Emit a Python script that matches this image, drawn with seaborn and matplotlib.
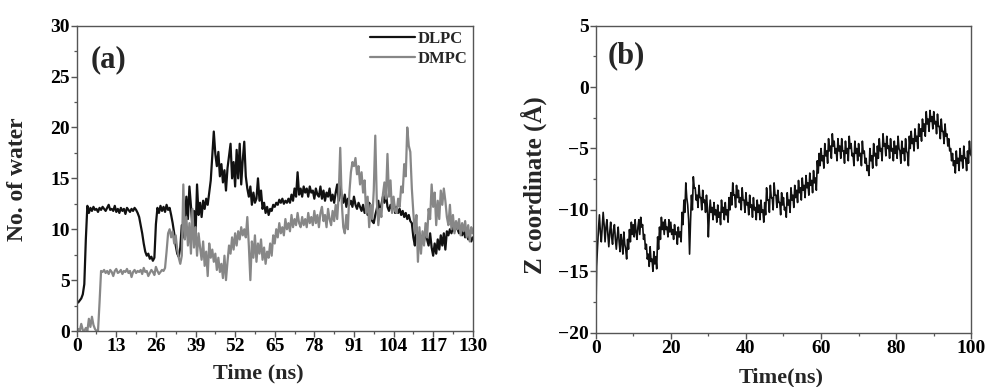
import numpy as np
import pandas as pd
import matplotlib
matplotlib.use("Agg")
import matplotlib.pyplot as plt
from matplotlib.ticker import MultipleLocator
import seaborn as sns

# ---------------- data ----------------
# panel (a): number of water molecules, sampled every 0.5 ns from 0 to 130 ns
time_a_step = 0.5
dlpc_water = [
    2.9, 2.8, 3.0, 3.2, 3.6, 4.6, 9.0, 12.3, 11.6, 12.1,
    11.8, 12.2, 11.9, 12.0, 11.7, 12.1, 11.9, 12.2, 12.0, 11.8,
    12.1, 12.4, 11.9, 12.0, 11.8, 12.3, 11.7, 12.0, 11.6, 12.1,
    11.8, 12.0, 11.5, 12.1, 11.9, 11.7, 12.0, 11.8, 12.1, 11.9,
    11.6, 11.2, 10.4, 9.6, 8.6, 7.8, 7.4, 7.6, 7.1, 7.3,
    6.9, 7.2, 10.5, 12.1, 11.6, 12.3, 11.8, 12.2, 11.7, 12.4,
    11.9, 12.1, 11.4, 10.6, 9.6, 8.4, 7.6, 7.3, 8.2, 10.4,
    9.2, 10.8, 13.2, 11.0, 14.2, 12.3, 10.0, 11.8, 9.4, 14.4,
    11.4, 12.6, 11.2, 12.8, 12.0, 13.0, 12.4, 13.6, 14.8, 17.2,
    19.6, 17.4, 16.2, 17.6, 15.2, 16.4, 14.6, 15.8, 13.8, 16.0,
    17.2, 18.4, 15.0, 16.6, 14.2, 17.8, 15.0, 18.4, 14.4, 16.8,
    18.6, 15.2, 14.0, 13.2, 14.2, 12.4, 13.6, 12.6, 13.0, 15.0,
    12.8, 13.8, 12.0, 12.6, 11.6, 12.2, 11.4, 12.0, 11.8, 12.4,
    12.2, 12.6, 12.4, 12.9, 12.6, 13.0, 12.5, 12.8, 12.6, 13.0,
    12.6, 13.4, 12.8, 14.0, 13.2, 15.6, 13.4, 14.0, 13.2, 14.2,
    13.6, 14.0, 13.2, 14.2, 13.6, 13.8, 13.0, 14.0, 13.4, 13.2,
    14.2, 13.0, 13.8, 12.8, 13.6, 13.2, 14.0, 12.8, 13.4, 12.6,
    13.6, 14.4, 12.8, 14.8, 13.0, 12.6, 13.4, 12.2, 13.0, 12.4,
    12.8, 12.2, 13.2, 12.4, 12.0, 12.6, 12.2, 11.8, 12.4, 11.6,
    12.0, 11.4, 12.6, 12.2, 10.8, 10.6, 11.4, 12.0, 12.8, 11.4,
    12.4, 13.2, 12.6, 13.6, 12.2, 11.8, 12.4, 12.0, 12.8, 11.6,
    12.2, 11.6, 12.0, 11.4, 11.8, 11.2, 11.6, 11.0, 11.4, 10.8,
    10.6, 9.2, 8.4, 10.2, 9.0, 9.6, 8.6, 9.4, 8.8, 9.8,
    9.0, 8.4, 9.6, 8.2, 7.4, 8.6, 7.6, 9.0, 8.0, 9.4,
    8.4, 9.6, 8.0, 9.8, 9.4, 10.0, 9.6, 10.2, 9.8, 10.4,
    10.0, 9.6, 10.2, 9.4, 10.0, 9.2, 9.8, 9.0, 9.4, 8.8,
    9.2,
]
dmpc_water = [
    0.0, 0.2, 0.0, 0.7, 0.1, 0.0, 0.3, 0.0, 1.2, 0.4,
    1.4, 0.6, 0.2, 0.0, 0.0, 2.8, 5.9, 5.8, 6.0, 5.7,
    5.9, 5.6, 6.0, 5.8, 5.4, 5.9, 6.1, 5.7, 5.8, 6.0,
    5.6, 5.9, 5.8, 6.1, 5.7, 5.9, 5.3, 5.8, 6.0, 5.7,
    5.9, 5.8, 6.0, 5.6, 6.2, 5.8, 5.9, 5.4, 5.7, 6.0,
    5.8, 5.5, 6.3, 5.9, 5.6, 5.8, 6.0, 5.9, 6.2, 7.8,
    9.6, 10.0, 9.2, 9.8, 8.6, 9.4, 8.0, 7.2, 6.6, 7.4,
    14.4, 9.0, 11.2, 8.4, 10.6, 7.6, 12.0, 8.2, 10.2, 7.4,
    9.6, 8.2, 7.0, 8.8, 6.4, 7.8, 5.4, 8.6, 7.2, 8.0,
    6.8, 7.6, 6.0, 7.2, 5.8, 6.6, 5.2, 7.4, 5.0, 6.8,
    8.4, 7.6, 9.2, 8.0, 9.6, 8.4, 9.8, 9.0, 10.2, 9.4,
    10.0, 9.2, 11.2, 8.4, 5.0, 8.8, 7.2, 9.4, 6.8, 8.6,
    7.6, 9.0, 7.0, 8.2, 6.6, 7.8, 7.2, 8.6, 7.4, 9.4,
    8.6, 10.0, 9.2, 10.6, 9.6, 10.2, 9.4, 11.0, 10.0, 10.6,
    9.8, 11.4, 10.2, 11.0, 10.4, 11.6, 10.6, 10.2, 11.2, 10.4,
    11.0, 10.2, 11.6, 10.6, 11.2, 10.4, 11.8, 10.6, 11.4, 10.2,
    11.6, 12.2, 10.8, 11.4, 10.2, 12.0, 11.0, 10.4, 11.8, 10.8,
    12.4, 11.0, 13.4, 18.0, 12.6, 10.2, 9.6, 11.4, 10.0, 13.6,
    15.6, 16.6, 16.2, 17.0, 15.4, 16.2, 14.4, 15.6, 13.6, 14.8,
    11.6, 13.2, 10.2, 12.4, 11.0, 13.8, 19.2, 12.8, 10.4, 12.0,
    11.2, 13.4, 14.6, 13.0, 17.4, 13.2, 14.8, 11.6, 13.2, 11.8,
    11.6, 13.0, 12.2, 14.2, 13.6, 16.4, 15.2, 20.0, 18.2, 17.6,
    14.0, 11.6, 9.6, 11.4, 6.8, 10.2, 7.6, 9.8, 8.4, 10.6,
    9.2, 12.0, 11.0, 14.4, 12.2, 13.6, 10.4, 12.8, 11.0, 13.8,
    12.4, 14.0, 12.8, 11.2, 10.4, 12.4, 10.0, 11.4, 9.6, 10.8,
    10.0, 11.0, 9.4, 10.6, 9.8, 10.8, 9.2, 10.4, 8.8, 10.2,
    9.6,
]
series_names = ["DLPC", "DMPC"]
x_ticks_a = [0, 13, 26, 39, 52, 65, 78, 91, 104, 117, 130]

# panel (b): Z coordinate, sampled every 0.25 ns from 0 to 100 ns
time_b_step = 0.25
z_coord = [
    -20.0, -14.6, -13.0, -11.6, -10.4, -11.8, -12.6, -11.4, -10.2, -11.2, -12.6, -11.4, -10.8, -12.0, -13.0, -11.8, -11.0, -12.2, -12.8, -11.6,
    -11.2, -12.4, -13.2, -12.2, -11.4, -12.6, -13.4, -12.0, -12.6, -13.6, -11.8, -12.8, -13.2, -14.0, -12.4, -13.2, -11.6, -12.6, -11.0, -12.0,
    -11.2, -12.2, -10.8, -11.8, -12.4, -11.4, -10.8, -12.0, -10.6, -11.4, -11.2, -12.4, -12.0, -13.2, -12.8, -14.0, -13.6, -14.6, -13.0, -14.2,
    -14.0, -15.0, -13.4, -14.4, -13.8, -14.8, -12.2, -13.2, -11.4, -12.4, -10.6, -11.6, -11.0, -12.0, -10.8, -11.6, -11.4, -12.2, -10.8, -11.8,
    -11.0, -12.0, -11.6, -12.4, -11.2, -12.0, -11.8, -12.8, -11.4, -12.2, -11.8, -12.6, -10.2, -11.2, -9.2, -10.2, -7.8, -9.0, -9.6, -10.8,
    -13.6, -11.0, -8.8, -10.0, -7.3, -8.2, -8.2, -9.2, -8.8, -9.8, -8.0, -9.0, -9.0, -10.0, -8.4, -9.4, -9.2, -10.2, -8.8, -9.8,
    -12.2, -10.4, -9.2, -10.2, -9.8, -10.8, -9.4, -10.4, -10.0, -11.0, -9.6, -10.6, -10.2, -11.2, -9.2, -10.2, -9.8, -10.8, -9.4, -10.4,
    -10.0, -11.0, -9.0, -10.0, -8.6, -9.6, -7.8, -8.8, -8.8, -9.8, -8.0, -9.0, -8.4, -9.4, -9.0, -10.0, -8.2, -9.2, -9.2, -10.2,
    -8.6, -9.6, -9.4, -10.4, -8.8, -9.8, -9.6, -10.6, -9.0, -10.0, -9.8, -10.8, -9.2, -10.2, -9.6, -10.8, -9.2, -10.2, -10.0, -11.0,
    -9.4, -10.4, -8.2, -9.2, -9.2, -10.2, -8.0, -9.0, -9.0, -10.0, -7.8, -8.8, -8.8, -9.8, -8.4, -9.4, -9.4, -10.4, -8.6, -9.6,
    -9.0, -10.0, -9.8, -10.6, -8.6, -9.6, -9.2, -10.2, -8.2, -9.2, -8.8, -9.8, -8.0, -9.0, -8.4, -9.4, -7.6, -8.6, -8.2, -9.2,
    -7.4, -8.4, -8.0, -9.0, -7.2, -8.2, -7.8, -8.8, -7.0, -8.0, -7.6, -8.6, -6.8, -7.8, -7.4, -8.4, -6.0, -7.0, -5.4, -6.4,
    -5.0, -6.0, -5.6, -6.6, -4.6, -5.6, -5.2, -6.2, -4.2, -5.2, -4.8, -5.8, -3.8, -4.8, -4.4, -5.4, -5.0, -6.0, -4.2, -5.2,
    -4.8, -5.8, -4.2, -5.2, -5.2, -6.2, -4.4, -5.4, -5.0, -6.0, -4.0, -5.0, -4.6, -5.6, -5.4, -6.4, -4.4, -5.4, -5.0, -6.0,
    -4.6, -5.6, -5.4, -6.4, -4.4, -5.4, -5.2, -6.2, -5.8, -6.8, -6.4, -7.2, -5.0, -6.0, -5.6, -6.6, -4.6, -5.6, -5.4, -6.4,
    -4.8, -5.8, -4.2, -5.2, -5.0, -6.0, -3.8, -4.8, -4.6, -5.6, -4.0, -5.0, -4.8, -5.8, -4.2, -5.2, -5.0, -6.0, -4.4, -5.4,
    -4.8, -5.8, -4.0, -5.0, -5.2, -6.2, -4.4, -5.4, -5.0, -6.0, -4.2, -5.2, -5.4, -6.4, -4.0, -5.0, -3.6, -4.6, -4.2, -5.2,
    -3.4, -4.4, -4.0, -5.0, -3.0, -4.0, -3.4, -4.4, -2.6, -3.6, -3.0, -4.0, -2.0, -3.0, -2.6, -3.6, -1.9, -2.8, -2.4, -3.4,
    -2.0, -3.0, -2.8, -3.8, -2.2, -3.2, -3.2, -4.2, -2.6, -3.6, -3.6, -4.6, -3.0, -4.0, -3.8, -4.8, -4.2, -5.2, -5.0, -6.0,
    -5.4, -6.4, -6.0, -7.0, -5.2, -6.2, -5.8, -6.8, -5.0, -6.0, -5.6, -6.6, -4.8, -5.8, -5.8, -6.8, -5.2, -6.2, -4.4, -5.4,
    -5.6,
]

# ---------------- build tables ----------------
t_a = np.arange(len(dlpc_water)) * time_a_step
df_a = pd.DataFrame({
    "time": np.concatenate([t_a, t_a]),
    "water": dlpc_water + dmpc_water,
    "lipid": [series_names[0]] * len(dlpc_water) + [series_names[1]] * len(dmpc_water),
})
t_b = np.arange(len(z_coord)) * time_b_step
df_b = pd.DataFrame({"time": t_b, "z": z_coord})

# ---------------- style ----------------
sns.set_style("ticks")
plt.rcParams["font.family"] = ["Liberation Serif", "DejaVu Serif"]
plt.rcParams["font.weight"] = "bold"
plt.rcParams["axes.labelweight"] = "bold"
plt.rcParams["axes.edgecolor"] = "#555555"
plt.rcParams["xtick.color"] = "#555555"
plt.rcParams["ytick.color"] = "#555555"
plt.rcParams["xtick.labelcolor"] = "black"
plt.rcParams["ytick.labelcolor"] = "black"

fig = plt.figure(figsize=(9.87, 3.87), dpi=100)
ax1 = fig.add_axes([0.0777, 0.1447, 0.4013, 0.7889])
ax2 = fig.add_axes([0.6035, 0.1403, 0.3806, 0.7933])

palette = {"DLPC": "#111111", "DMPC": "#878787"}

sns.lineplot(data=df_a, x="time", y="water", hue="lipid", palette=palette,
             estimator=None, sort=False, linewidth=1.6, ax=ax1)
sns.lineplot(data=df_b, x="time", y="z", color="#111111",
             estimator=None, sort=False, linewidth=1.2, ax=ax2)

tick_fs = 14
for ax in (ax1, ax2):
    for s in ax.spines.values():
        s.set_visible(True)
        s.set_linewidth(1.0)
    ax.tick_params(axis="both", which="major", direction="out", length=4,
                   width=1.0, labelsize=tick_fs, pad=1)
    ax.tick_params(axis="both", which="minor", direction="out", length=2.5, width=0.9)

# panel (a) axes
ax1.set_xlim(0, 130)
ax1.set_ylim(0, 30)
ax1.set_xticks(x_ticks_a)
ax1.xaxis.set_minor_locator(MultipleLocator(6.5))
ax1.yaxis.set_major_locator(MultipleLocator(5))
ax1.yaxis.set_minor_locator(MultipleLocator(2.5))
ax1.set_xlabel("Time (ns)", fontsize=16, fontweight="bold")
ax1.set_ylabel("No. of water", fontsize=17, fontweight="bold")
ax1.xaxis.set_label_coords(0.458, -0.105)
ax1.yaxis.set_label_coords(-0.123, 0.498)
ax1.text(0.034, 0.935, "(a)", transform=ax1.transAxes, fontsize=22,
         fontweight="bold", va="top", ha="left")
leg = ax1.legend(title=None, loc="upper right", frameon=False,
                 handlelength=2.7, handletextpad=0.2, labelspacing=0.25,
                 borderaxespad=0.0, borderpad=0.3,
                 prop={"weight": "bold", "size": 12})
for lh in leg.get_lines():
    lh.set_linewidth(1.6)

# panel (b) axes
ax2.set_xlim(0, 100)
ax2.set_ylim(-20, 5)
ax2.xaxis.set_major_locator(MultipleLocator(20))
ax2.xaxis.set_minor_locator(MultipleLocator(10))
ax2.yaxis.set_major_locator(MultipleLocator(5))
ax2.yaxis.set_minor_locator(MultipleLocator(2.5))
ax2.set_xlabel("Time(ns)", fontsize=16, fontweight="bold")
ax2.set_ylabel("Z coordinate (Å)", fontsize=18, fontweight="bold")
ax2.xaxis.set_label_coords(0.493, -0.112)
ax2.yaxis.set_label_coords(-0.13, 0.48)
ax2.text(0.033, 0.95, "(b)", transform=ax2.transAxes, fontsize=22,
         fontweight="bold", va="top", ha="left")

for ax in (ax1, ax2):
    for lab in ax.get_xticklabels() + ax.get_yticklabels():
        lab.set_fontweight("bold")

fig.savefig("out.png", dpi=100)
